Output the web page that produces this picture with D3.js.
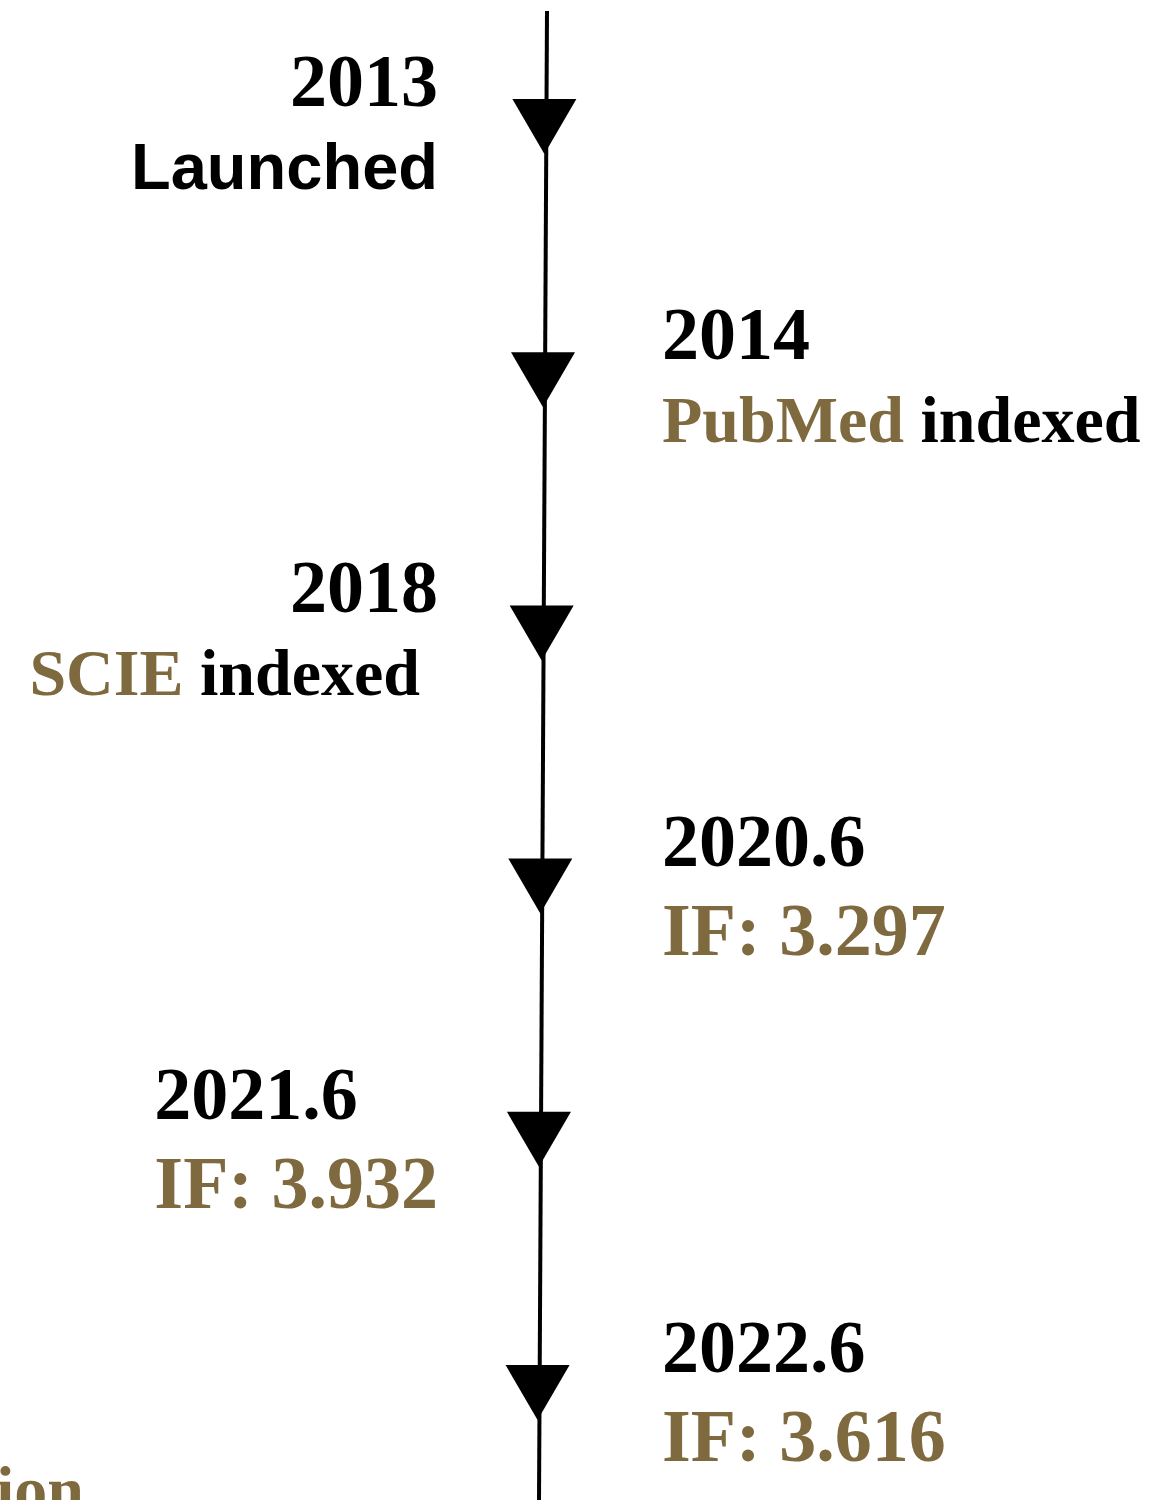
<!DOCTYPE html>
<html>
<head>
<meta charset="utf-8">
<script src="https://cdn.jsdelivr.net/npm/d3@7"></script>
<style>
  body { margin: 0; background: #fff; }
  svg { display: block; }
</style>
</head>
<body>
<div class="timeline"></div>
<script>
// timeline data
const years = ["2013", "2014", "2018", "2020.6", "2021.6", "2022.6"];
const sides = ["left", "right", "left", "right", "left", "right"];
const highlights = ["", "PubMed", "SCIE", "IF: 3.297", "IF: 3.932", "IF: 3.616"];
const notes = ["Launched", " indexed", " indexed", "", "", ""];
const cutOffText = "ion"; // next label, cut off by the bottom edge

const width = 1169;
const height = 1500;
const brown = "#7f6a3f";
const serif = "'Liberation Serif', 'Times New Roman', serif";
const sans = "'Liberation Sans', Arial, sans-serif";

var events = years.map(function (y, i) {
    return { year: y, side: sides[i], hl: highlights[i], note: notes[i] };
});

var svg = d3.select('div.timeline')
    .append('svg')
    .attr('width', width)
    .attr('height', height);

// y = top of each arrow head
var y = d3.scalePoint()
    .domain(years)
    .range([99, 1365]);

// the line leans a little to the left going down
var lineX = d3.scaleLinear()
    .domain([11, 1500])
    .range([547, 539]);

svg.append('line')
    .attr('x1', lineX(11))
    .attr('y1', 11)
    .attr('x2', lineX(1500))
    .attr('y2', 1500)
    .attr('stroke', '#000')
    .attr('stroke-width', 4);

// arrow heads
var headW = 64, headH = 55;
svg.append('g')
    .selectAll('path')
    .data(events)
    .enter()
    .append('path')
    .attr('d', function (d) {
        var top = y(d.year);
        var cx = lineX(top + headH / 2) - 2;
        return 'M' + (cx - headW / 2) + ',' + top +
            'L' + (cx + headW / 2) + ',' + top +
            'L' + cx + ',' + (top + headH) + 'Z';
    })
    .attr('fill', '#000');

var leftX = 438, rightX = 662;

var labels = svg.append('g')
    .selectAll('g')
    .data(events)
    .enter()
    .append('g');

// year line
var yearText = labels.append('text')
    .attr('class', 'year')
    .attr('x', function (d) { return d.side == 'left' ? leftX : rightX; })
    .attr('y', function (d) { return y(d.year) + 7; })
    .attr('text-anchor', function (d) { return d.side == 'left' ? 'end' : 'start'; })
    .style('font-family', serif)
    .style('font-weight', 'bold')
    .style('font-size', '74px')
    .text(function (d) { return d.year; });

// description line (IF lines sit a bit lower)
var desc = labels.append('text')
    .attr('class', 'desc')
    .attr('x', function (d) { return d.side == 'left' ? leftX - (d.hl == 'SCIE' ? 18 : 0) : rightX; })
    .attr('y', function (d) { return y(d.year) + 7 + (d.note == '' ? 89 : 83); })
    .attr('text-anchor', function (d) { return d.side == 'left' ? 'end' : 'start'; })
    .style('font-weight', 'bold')
    .style('font-family', function (d) { return d.hl == '' ? sans : serif; })
    .style('font-size', function (d) {
        if (d.hl == '') return '65px';
        return d.note == '' ? '74px' : '66px';
    });

desc.append('tspan')
    .attr('fill', brown)
    .text(function (d) { return d.hl; });
desc.append('tspan')
    .attr('fill', '#000')
    .style('white-space', 'pre')
    .text(function (d) { return d.note; });

// left IF block: both lines share the left edge
labels.filter(function (d) { return d.side == 'left' && d.note == ''; })
    .each(function () {
        var g = d3.select(this);
        var w = g.select('text.desc').node().getComputedTextLength();
        g.selectAll('text')
            .attr('text-anchor', 'start')
            .attr('x', leftX - w);
    });

svg.append('text')
    .attr('x', -4)
    .attr('y', 1512)
    .attr('fill', brown)
    .style('font-family', serif)
    .style('font-weight', 'bold')
    .style('font-size', '66px')
    .text(cutOffText);
</script>
</body>
</html>
